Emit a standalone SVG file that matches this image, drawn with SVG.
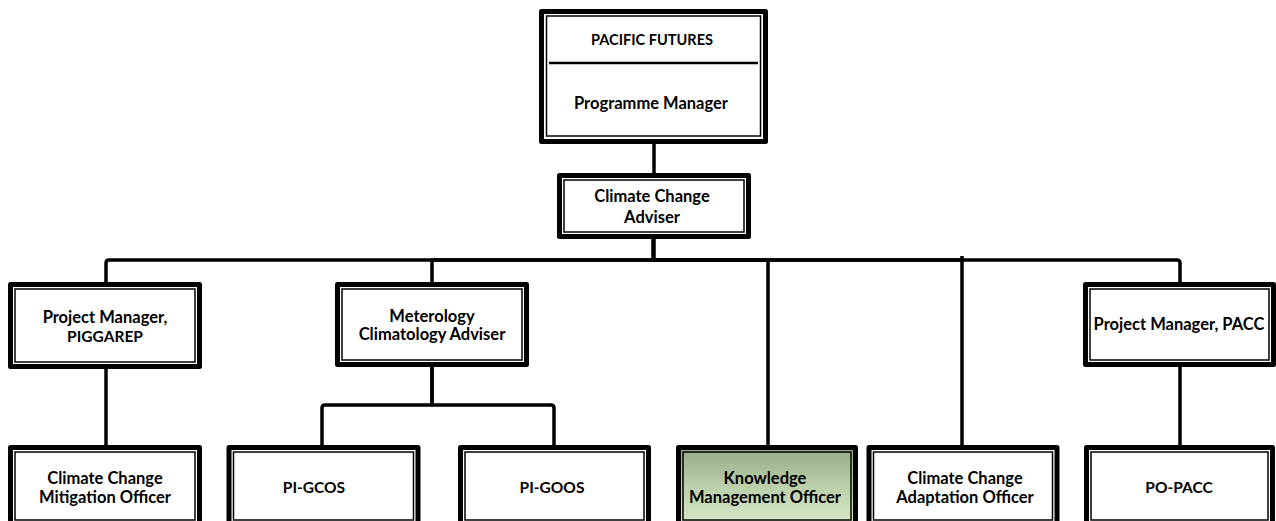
<svg xmlns="http://www.w3.org/2000/svg" width="1276" height="521" viewBox="0 0 1276 521">
  <style>
    .outer { fill: none; stroke: #000; stroke-width: 5; stroke-linejoin: round; }
    .inner { fill: none; stroke: #000; stroke-width: 1.5; }
    .bg { fill: #fff; stroke: none; }
    .conn { fill: none; stroke: #000; stroke-width: 3.5; stroke-linejoin: round; }
    text { font-family: "Lato", "Open Sans", sans-serif; font-weight: bold; font-size: 16.5px; fill: #000; text-anchor: middle; }
    text.caps { font-size: 15.5px; }
  </style>
  <defs>
    <linearGradient id="kmoGrad" x1="0" y1="0" x2="0" y2="1">
      <stop offset="0" stop-color="#96a888"/>
      <stop offset="0.5" stop-color="#bcd0ab"/>
      <stop offset="1" stop-color="#d9eac9"/>
    </linearGradient>
  </defs>
  <rect width="1276" height="521" fill="#fff"/>

  <g id="connectors">
    <path class="conn" d="M654,144 V173"/>
    <path class="conn" d="M653.5,239 V260 H109 Q106,260 106,263 V282" stroke-width="4"/>
    <path class="conn" d="M653.5,239 V260 H432 V282" stroke-width="4"/>
    <path class="conn" d="M653.5,239 V260 H768 V445"/>
    <path class="conn" d="M653.5,239 V260 H962 M962,256 V445"/>
    <path class="conn" d="M653.5,239 V260 H1177 Q1180,260 1180,263 V282"/>
    <path class="conn" d="M106,369 V445"/>
    <path class="conn" d="M432,367 V405 H325 Q322,405 322,408 V445"/>
    <path class="conn" d="M432,367 V405 H551 Q554,405 554,408 V445"/>
    <path class="conn" d="M1180,367 V445"/>
  </g>

  <g id="pacific-futures">
    <rect class="bg" x="541.5" y="11.5" width="224" height="130"/>
    <rect class="outer" x="541.5" y="11.5" width="224" height="130"/>
    <rect class="inner" x="546.5" y="16" width="214" height="120"/>
    <line x1="549" y1="63" x2="758" y2="63" stroke="#000" stroke-width="2.5"/>
    <text class="caps" x="652" y="45" textLength="122" lengthAdjust="spacingAndGlyphs">PACIFIC FUTURES</text>
    <text x="651" y="109">Programme Manager</text>
  </g>

  <g id="cc-adviser">
    <rect class="bg" x="559.5" y="175.5" width="189" height="61"/>
    <rect class="outer" x="559.5" y="175.5" width="189" height="61"/>
    <rect class="inner" x="564" y="180" width="180" height="52"/>
    <text x="652" y="202">Climate Change</text>
    <text x="652" y="223">Adviser</text>
  </g>

  <g id="pm-piggarep">
    <rect class="bg" x="10.5" y="284.5" width="189" height="82"/>
    <rect class="outer" x="10.5" y="284.5" width="189" height="82"/>
    <rect class="inner" x="15" y="289" width="180" height="73"/>
    <text x="105" y="323">Project Manager,</text>
    <text class="caps" x="105" y="342">PIGGAREP</text>
  </g>

  <g id="met-adviser">
    <rect class="bg" x="337.5" y="284.5" width="189" height="80"/>
    <rect class="outer" x="337.5" y="284.5" width="189" height="80"/>
    <rect class="inner" x="342" y="289" width="180" height="71"/>
    <text x="432" y="322">Meterology</text>
    <text x="432" y="340">Climatology Adviser</text>
  </g>

  <g id="pm-pacc">
    <rect class="bg" x="1085.5" y="284.5" width="188" height="80"/>
    <rect class="outer" x="1085.5" y="284.5" width="188" height="80"/>
    <rect class="inner" x="1090" y="289" width="179" height="71"/>
    <text x="1179" y="330">Project Manager, PACC</text>
  </g>

  <g id="ccmo">
    <rect class="bg" x="10.5" y="447.5" width="189" height="80"/>
    <rect class="outer" x="10.5" y="447.5" width="189" height="80"/>
    <rect class="inner" x="15" y="452" width="180" height="68"/>
    <text x="105" y="484">Climate Change</text>
    <text x="105" y="503">Mitigation Officer</text>
  </g>

  <g id="pi-gcos">
    <rect class="bg" x="229" y="447.5" width="189" height="80"/>
    <rect class="outer" x="229" y="447.5" width="189" height="80"/>
    <rect class="inner" x="233.5" y="452" width="180" height="68"/>
    <text class="caps" x="314" y="493">PI-GCOS</text>
  </g>

  <g id="pi-goos">
    <rect class="bg" x="460.5" y="447.5" width="188" height="80"/>
    <rect class="outer" x="460.5" y="447.5" width="188" height="80"/>
    <rect class="inner" x="465" y="452" width="179" height="68"/>
    <text class="caps" x="552" y="493">PI-GOOS</text>
  </g>

  <g id="kmo">
    <rect x="678.5" y="447.5" width="177" height="80" fill="url(#kmoGrad)"/>
    <rect class="outer" x="678.5" y="447.5" width="177" height="80"/>
    <rect class="inner" x="683" y="452" width="168" height="68"/>
    <text x="765" y="484">Knowledge</text>
    <text x="765" y="503">Management Officer</text>
  </g>

  <g id="ccao">
    <rect class="bg" x="869" y="447.5" width="188" height="80"/>
    <rect class="outer" x="869" y="447.5" width="188" height="80"/>
    <rect class="inner" x="873.5" y="452" width="179" height="68"/>
    <text x="965" y="484">Climate Change</text>
    <text x="965" y="503">Adaptation Officer</text>
  </g>

  <g id="po-pacc">
    <rect class="bg" x="1086.5" y="447.5" width="186" height="80"/>
    <rect class="outer" x="1086.5" y="447.5" width="186" height="80"/>
    <rect class="inner" x="1091" y="452" width="177" height="68"/>
    <text class="caps" x="1179" y="493">PO-PACC</text>
  </g>
</svg>
